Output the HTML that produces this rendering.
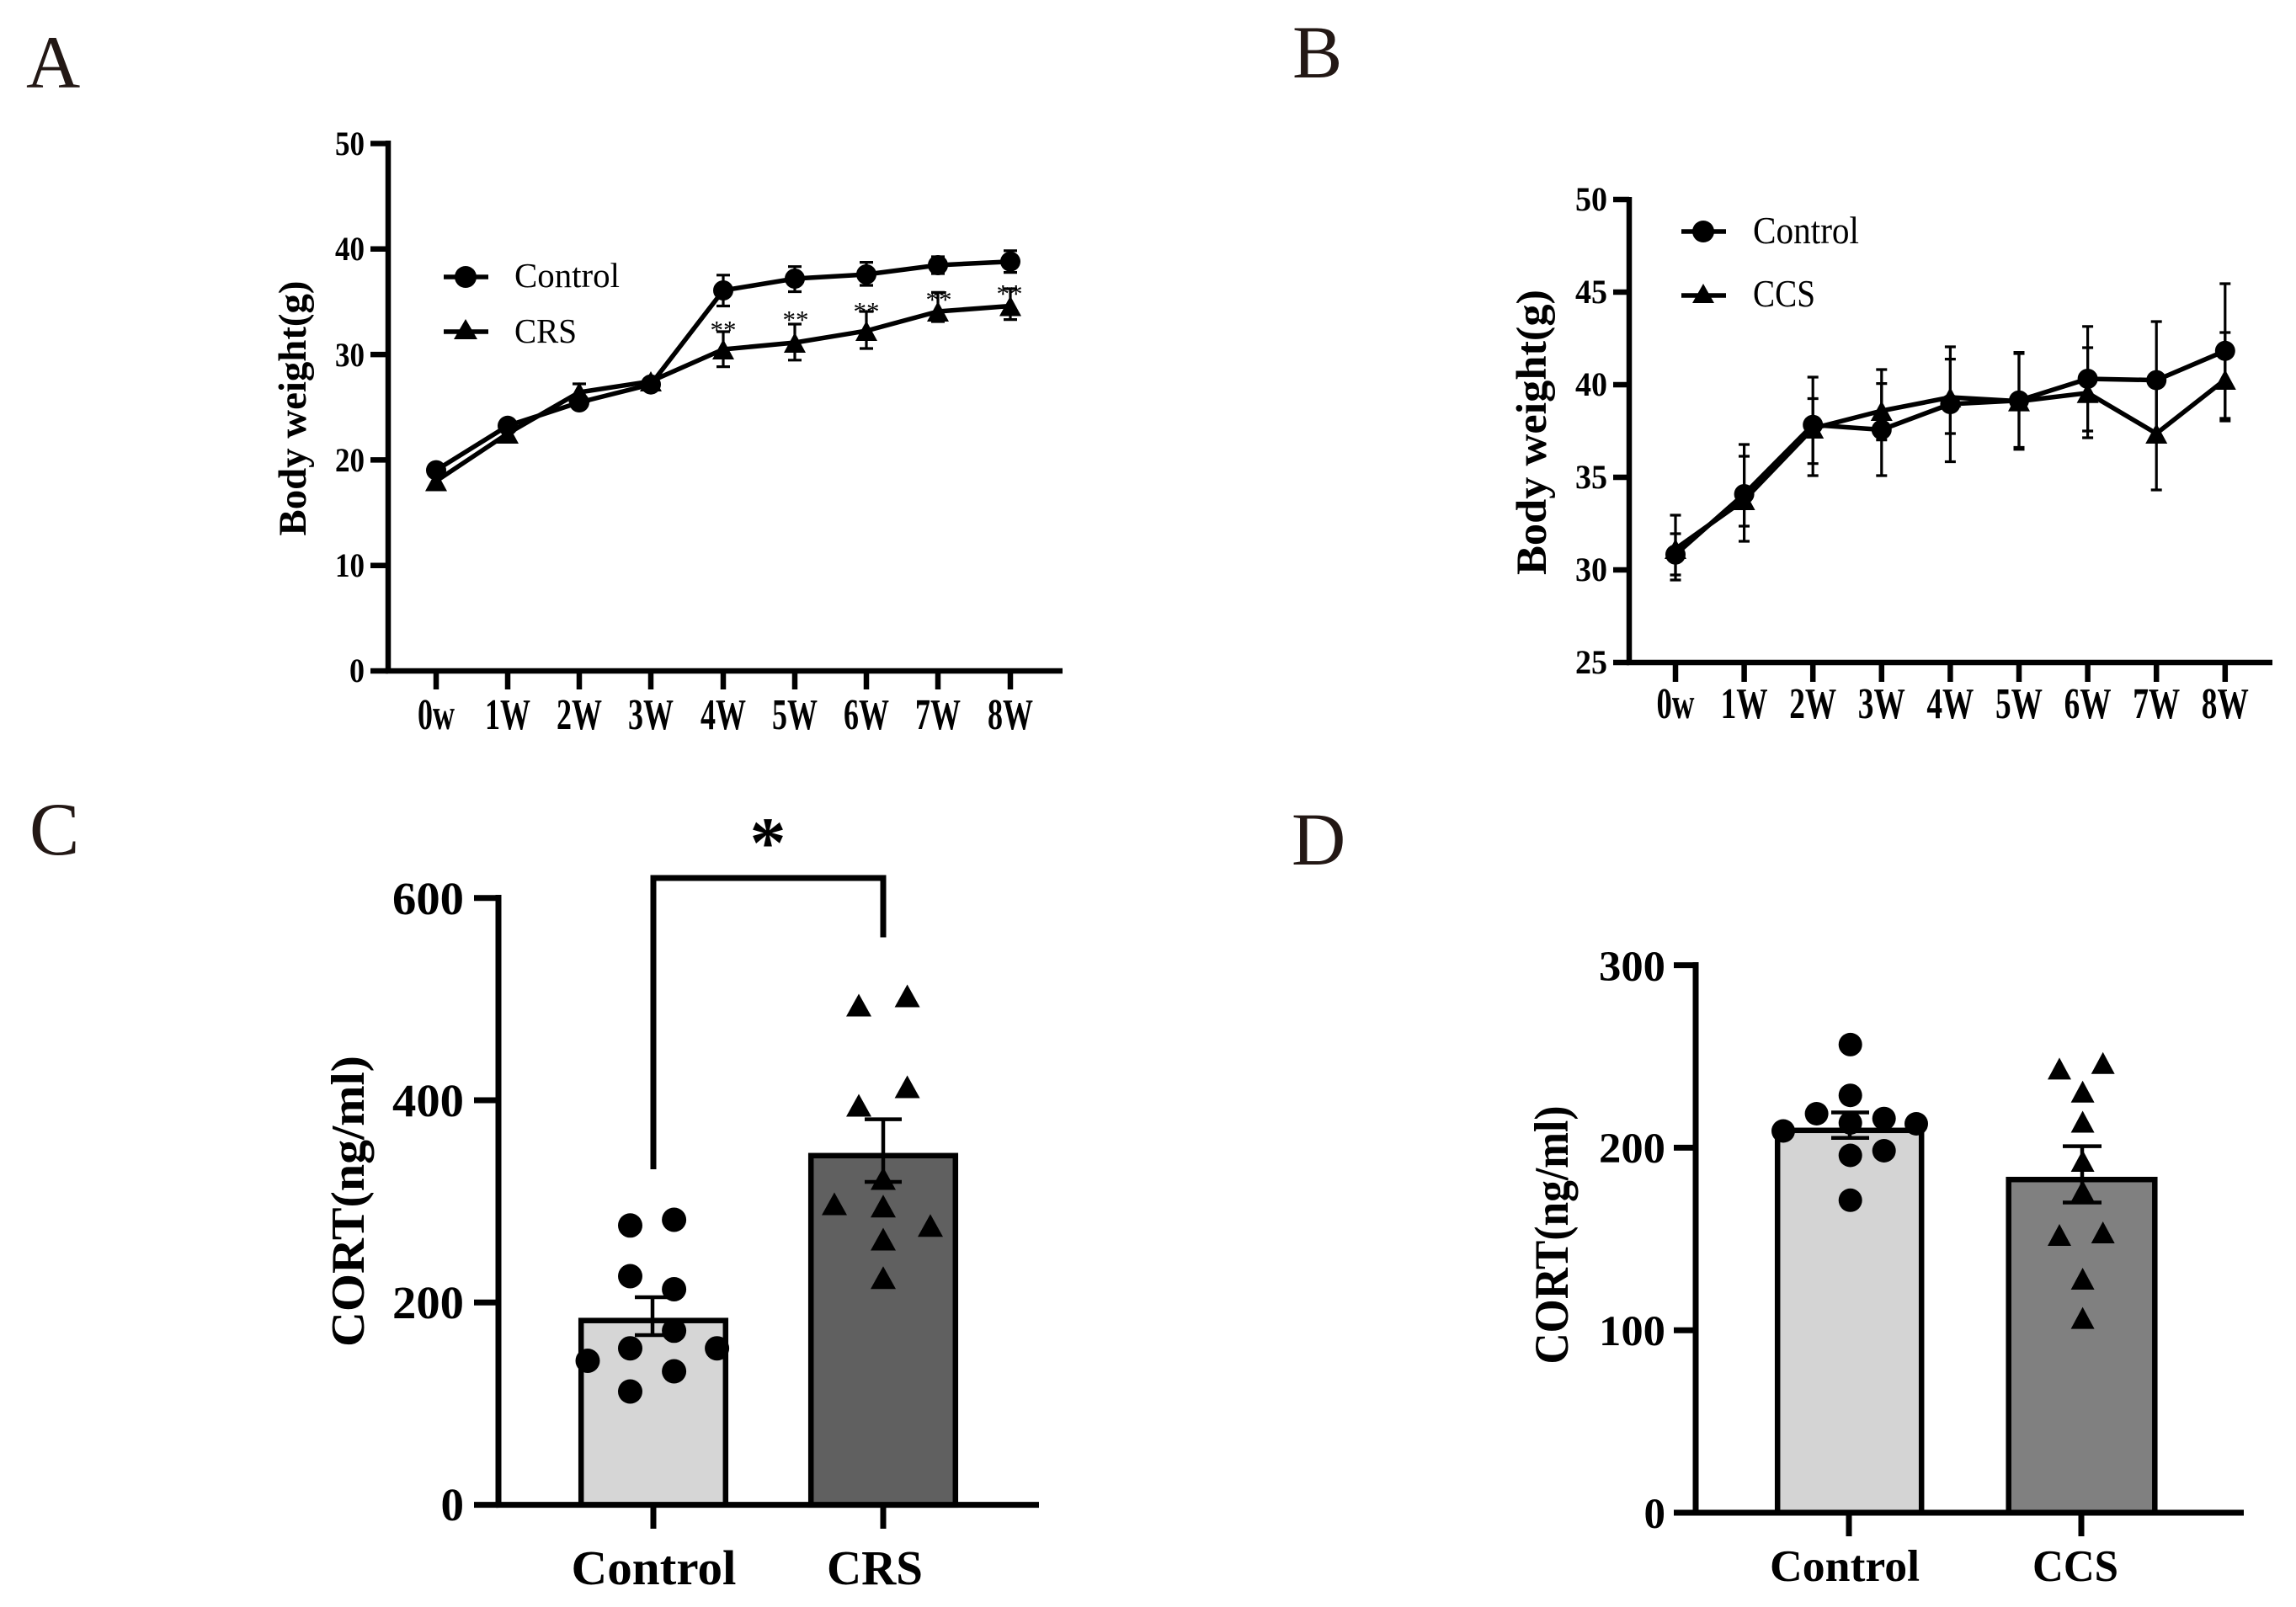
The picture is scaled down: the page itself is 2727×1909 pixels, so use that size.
<!DOCTYPE html>
<html>
<head>
<meta charset="utf-8">
<style>
  html,body{margin:0;padding:0;background:#fff;}
  svg{display:block;}
  text{font-family:"Liberation Serif","Times New Roman",serif;}
</style>
</head>
<body>
<svg width="2727" height="1909" viewBox="0 0 2727 1909" xmlns="http://www.w3.org/2000/svg">
<rect x="0" y="0" width="2727" height="1909" fill="#ffffff"/>

<!-- Panel letters -->
<g fill="#231815" font-size="89">
  <text x="31" y="104">A</text>
  <text x="1535" y="92">B</text>
  <text x="35" y="1015">C</text>
  <text x="1534" y="1027">D</text>
</g>

<!-- ================= PANEL A ================= -->
<g stroke="#000" fill="none" stroke-width="6.5">
  <path d="M461,167 V800"/>
  <path d="M458,797 H1262"/>
  <path d="M440,797 H461 M440,671.7 H461 M440,546.4 H461 M440,421.1 H461 M440,295.8 H461 M440,170.5 H461"/>
  <path d="M518,797 V819 M603,797 V819 M688,797 V819 M773,797 V819 M859,797 V819 M944,797 V819 M1029,797 V819 M1114,797 V819 M1200,797 V819"/>
</g>
<g font-size="40" font-weight="bold" text-anchor="end">
  <text x="433" y="810" textLength="18" lengthAdjust="spacingAndGlyphs">0</text>
  <text x="433" y="685" textLength="35" lengthAdjust="spacingAndGlyphs">10</text>
  <text x="433" y="560" textLength="35" lengthAdjust="spacingAndGlyphs">20</text>
  <text x="433" y="435" textLength="35" lengthAdjust="spacingAndGlyphs">30</text>
  <text x="433" y="309" textLength="35" lengthAdjust="spacingAndGlyphs">40</text>
  <text x="433" y="184" textLength="35" lengthAdjust="spacingAndGlyphs">50</text>
</g>
<g font-size="52" font-weight="bold" text-anchor="middle">
  <text x="518" y="866" textLength="44" lengthAdjust="spacingAndGlyphs">0w</text>
  <text x="603" y="866" textLength="54" lengthAdjust="spacingAndGlyphs">1W</text>
  <text x="688" y="866" textLength="54" lengthAdjust="spacingAndGlyphs">2W</text>
  <text x="773" y="866" textLength="54" lengthAdjust="spacingAndGlyphs">3W</text>
  <text x="859" y="866" textLength="54" lengthAdjust="spacingAndGlyphs">4W</text>
  <text x="944" y="866" textLength="54" lengthAdjust="spacingAndGlyphs">5W</text>
  <text x="1029" y="866" textLength="54" lengthAdjust="spacingAndGlyphs">6W</text>
  <text x="1114" y="866" textLength="54" lengthAdjust="spacingAndGlyphs">7W</text>
  <text x="1200" y="866" textLength="54" lengthAdjust="spacingAndGlyphs">8W</text>
</g>
<text transform="translate(363,485) rotate(-90)" text-anchor="middle" font-size="47" font-weight="bold" textLength="303" lengthAdjust="spacingAndGlyphs">Body weight(g)</text>

<!-- legend A -->
<g stroke="#000" stroke-width="5.5" fill="none">
  <path d="M527,329 H580 M527,394 H580"/>
</g>
<circle cx="553" cy="329" r="13" fill="#000"/>
<path d="M553,379 L539,403 L567,403 Z" fill="#000"/>
<text x="611" y="341" font-size="41" textLength="125" lengthAdjust="spacingAndGlyphs">Control</text>
<text x="611" y="407" font-size="41" textLength="74" lengthAdjust="spacingAndGlyphs">CRS</text>

<!-- data lines A -->
<g stroke="#000" stroke-width="5.5" fill="none" stroke-linejoin="round">
  <polyline points="518,558.6 603,505.8 688,478 773,456.7 859,345 944,331 1029,326 1114,315 1200,310.7"/>
  <polyline points="518,571.5 603,515 688,466 773,453 859,415 944,407 1029,393 1114,370 1200,363.5"/>
</g>
<g stroke="#000" stroke-width="3.2" fill="none">
  <path d="M859,326.8 V363.5 M851,326.8 H867 M851,363.5 H867"/>
  <path d="M944,316.7 V346.5 M936,316.7 H952 M936,346.5 H952"/>
  <path d="M1029,311.6 V339 M1021,311.6 H1037 M1021,339 H1037"/>
  <path d="M1114,305 V325 M1106,305 H1122 M1106,325 H1122"/>
  <path d="M1200,297.8 V323.6 M1192,297.8 H1208 M1192,323.6 H1208"/>
  <path d="M688,456 V476 M680,456 H696"/>
  <path d="M859,394 V435.6 M851,394 H867 M851,435.6 H867"/>
  <path d="M944,385 V427.8 M936,385 H952 M936,427.8 H952"/>
  <path d="M1029,370 V414 M1021,370 H1037 M1021,414 H1037"/>
  <path d="M1114,347.4 V382 M1106,347.4 H1122 M1106,382 H1122"/>
  <path d="M1200,343 V379.6 M1192,343 H1208 M1192,379.6 H1208"/>
</g>
<g fill="#000">
  <circle cx="518" cy="558.6" r="12"/>
  <circle cx="603" cy="505.8" r="12"/>
  <circle cx="688" cy="478" r="12"/>
  <circle cx="773" cy="456.7" r="12"/>
  <circle cx="859" cy="345" r="12"/>
  <circle cx="944" cy="331" r="12"/>
  <circle cx="1029" cy="326" r="12"/>
  <circle cx="1114" cy="315" r="12"/>
  <circle cx="1200" cy="310.7" r="12"/>
  <path d="M518,559.5 L505,583.5 L531,583.5 Z"/>
  <path d="M603,503 L590,527 L616,527 Z"/>
  <path d="M688,454 L675,478 L701,478 Z"/>
  <path d="M773,441 L760,465 L786,465 Z"/>
  <path d="M859,403 L846,427 L872,427 Z"/>
  <path d="M944,395 L931,419 L957,419 Z"/>
  <path d="M1029,381 L1016,405 L1042,405 Z"/>
  <path d="M1114,358 L1101,382 L1127,382 Z"/>
  <path d="M1200,351.5 L1187,375.5 L1213,375.5 Z"/>
</g>
<g font-size="31" text-anchor="middle">
  <text x="859" y="402">**</text>
  <text x="945" y="390">**</text>
  <text x="1029" y="380">**</text>
  <text x="1115" y="366">**</text>
  <text x="1199" y="359">**</text>
</g>

<!-- ================= PANEL B ================= -->
<g stroke="#000" fill="none" stroke-width="6.5">
  <path d="M1935,234 V790"/>
  <path d="M1932,787 H2699"/>
  <path d="M1916,787 H1935 M1916,677 H1935 M1916,567 H1935 M1916,457 H1935 M1916,347 H1935 M1916,237 H1935"/>
  <path d="M1990,787 V810 M2071.6,787 V810 M2153.2,787 V810 M2234.8,787 V810 M2316.4,787 V810 M2398,787 V810 M2479.6,787 V810 M2561.2,787 V810 M2642.8,787 V810"/>
</g>
<g font-size="40" font-weight="bold" text-anchor="end">
  <text x="1909" y="800" textLength="38" lengthAdjust="spacingAndGlyphs">25</text>
  <text x="1909" y="690" textLength="38" lengthAdjust="spacingAndGlyphs">30</text>
  <text x="1909" y="580" textLength="38" lengthAdjust="spacingAndGlyphs">35</text>
  <text x="1909" y="470" textLength="38" lengthAdjust="spacingAndGlyphs">40</text>
  <text x="1909" y="360" textLength="38" lengthAdjust="spacingAndGlyphs">45</text>
  <text x="1909" y="250" textLength="38" lengthAdjust="spacingAndGlyphs">50</text>
</g>
<g font-size="52" font-weight="bold" text-anchor="middle">
  <text x="1990" y="853" textLength="45" lengthAdjust="spacingAndGlyphs">0w</text>
  <text x="2071.6" y="853" textLength="56" lengthAdjust="spacingAndGlyphs">1W</text>
  <text x="2153.2" y="853" textLength="56" lengthAdjust="spacingAndGlyphs">2W</text>
  <text x="2234.8" y="853" textLength="56" lengthAdjust="spacingAndGlyphs">3W</text>
  <text x="2316.4" y="853" textLength="56" lengthAdjust="spacingAndGlyphs">4W</text>
  <text x="2398" y="853" textLength="56" lengthAdjust="spacingAndGlyphs">5W</text>
  <text x="2479.6" y="853" textLength="56" lengthAdjust="spacingAndGlyphs">6W</text>
  <text x="2561.2" y="853" textLength="56" lengthAdjust="spacingAndGlyphs">7W</text>
  <text x="2642.8" y="853" textLength="56" lengthAdjust="spacingAndGlyphs">8W</text>
</g>
<text transform="translate(1836,513.5) rotate(-90)" text-anchor="middle" font-size="51" font-weight="bold" textLength="339" lengthAdjust="spacingAndGlyphs">Body weight(g)</text>

<g stroke="#000" stroke-width="5.5" fill="none">
  <path d="M1997,275 H2050 M1997,351 H2050"/>
</g>
<circle cx="2023" cy="275" r="13" fill="#000"/>
<path d="M2023,337 L2010,360 L2036,360 Z" fill="#000"/>
<text x="2082" y="289" font-size="45" textLength="126" lengthAdjust="spacingAndGlyphs">Control</text>
<text x="2082" y="364" font-size="45" textLength="74" lengthAdjust="spacingAndGlyphs">CCS</text>

<g stroke="#000" stroke-width="5.5" fill="none" stroke-linejoin="round">
  <polyline points="1990,658.75 2071.6,587 2153.2,504.7 2234.8,510.5 2316.4,480 2398,475.7 2479.6,450 2561.2,451.6 2642.8,416.8"/>
  <polyline points="1990,652 2071.6,594 2153.2,509 2234.8,488 2316.4,472 2398,476.6 2479.6,466.8 2561.2,515 2642.8,451"/>
</g>
<g stroke="#000" stroke-width="3.2" fill="none">
  <path d="M1990,634 V683 M1983.5,634 H1996.5 M1983.5,683 H1996.5"/>
  <path d="M1990,612 V689 M1983.5,612 H1996.5 M1983.5,689 H1996.5"/>
  <path d="M2071.6,542 V625 M2065,542 H2078 M2065,625 H2078"/>
  <path d="M2071.6,528 V643 M2065,528 H2078 M2065,643 H2078"/>
  <path d="M2153.2,448 V565 M2146.7,448 H2159.7 M2146.7,565 H2159.7"/>
  <path d="M2153.2,473.5 V550.7 M2146.7,473.5 H2159.7 M2146.7,550.7 H2159.7"/>
  <path d="M2234.8,455.6 V565 M2228.3,455.6 H2241.3 M2228.3,565 H2241.3"/>
  <path d="M2234.8,439 V522.6 M2228.3,439 H2241.3 M2228.3,522.6 H2241.3"/>
  <path d="M2316.4,412 V548.5 M2309.9,412 H2322.9 M2309.9,548.5 H2322.9"/>
  <path d="M2316.4,426.6 V515 M2309.9,426.6 H2322.9 M2309.9,515 H2322.9"/>
  <path d="M2398,418.6 V531.5 M2391.5,418.6 H2404.5 M2391.5,531.5 H2404.5"/>
  <path d="M2398,420 V533.75 M2391.5,420 H2404.5 M2391.5,533.75 H2404.5"/>
  <path d="M2479.6,387.8 V512 M2473.1,387.8 H2486.1 M2473.1,512 H2486.1"/>
  <path d="M2479.6,413 V520 M2473.1,413 H2486.1 M2473.1,520 H2486.1"/>
  <path d="M2561.2,382 V521.6 M2554.7,382 H2567.7 M2554.7,521.6 H2567.7"/>
  <path d="M2561.2,448 V582 M2554.7,448 H2567.7 M2554.7,582 H2567.7"/>
  <path d="M2642.8,337 V497 M2636.3,337 H2649.3 M2636.3,497 H2649.3"/>
  <path d="M2642.8,395 V500 M2636.3,395 H2649.3 M2636.3,500 H2649.3"/>
</g>
<g fill="#000">
  <circle cx="1990" cy="658.75" r="12"/>
  <circle cx="2071.6" cy="587" r="12"/>
  <circle cx="2153.2" cy="504.7" r="12"/>
  <circle cx="2234.8" cy="510.5" r="12"/>
  <circle cx="2316.4" cy="480" r="12"/>
  <circle cx="2398" cy="475.7" r="12"/>
  <circle cx="2479.6" cy="450" r="12"/>
  <circle cx="2561.2" cy="451.6" r="12"/>
  <circle cx="2642.8" cy="416.8" r="12"/>
  <path d="M1990,640 L1977,664 L2003,664 Z"/>
  <path d="M2071.6,582 L2058.6,606 L2084.6,606 Z"/>
  <path d="M2153.2,497 L2140.2,521 L2166.2,521 Z"/>
  <path d="M2234.8,476 L2221.8,500 L2247.8,500 Z"/>
  <path d="M2316.4,460 L2303.4,484 L2329.4,484 Z"/>
  <path d="M2398,464.6 L2385,488.6 L2411,488.6 Z"/>
  <path d="M2479.6,454.8 L2466.6,478.8 L2492.6,478.8 Z"/>
  <path d="M2561.2,503 L2548.2,527 L2574.2,527 Z"/>
  <path d="M2642.8,439 L2629.8,463 L2655.8,463 Z"/>
</g>

<!-- ================= PANEL C ================= -->
<rect x="690.2" y="1568.7" width="171.6" height="219" fill="#d6d6d6" stroke="#000" stroke-width="6.5"/>
<rect x="963.2" y="1372.8" width="171.6" height="415" fill="#606060" stroke="#000" stroke-width="6.5"/>
<g stroke="#000" fill="none" stroke-width="7">
  <path d="M592,1063 V1791"/>
  <path d="M589,1787.6 H1234"/>
  <path d="M563,1787.6 H592 M563,1547.3 H592 M563,1307 H592 M563,1066.7 H592"/>
  <path d="M776,1787.6 V1816 M1049,1787.6 V1816"/>
  <path d="M776,1389 V1043 H1049 V1113.5"/>
</g>
<g font-size="55" font-weight="bold" text-anchor="end">
  <text x="551" y="1806">0</text>
  <text x="551" y="1566" textLength="85" lengthAdjust="spacingAndGlyphs">200</text>
  <text x="551" y="1326" textLength="85" lengthAdjust="spacingAndGlyphs">400</text>
  <text x="551" y="1086" textLength="85" lengthAdjust="spacingAndGlyphs">600</text>
</g>
<g font-size="58" font-weight="bold" text-anchor="middle">
  <text x="776.5" y="1882" textLength="196" lengthAdjust="spacingAndGlyphs">Control</text>
  <text x="1039" y="1882" textLength="114" lengthAdjust="spacingAndGlyphs">CRS</text>
</g>
<text x="912" y="1030" font-size="86" font-weight="bold" text-anchor="middle">*</text>
<text transform="translate(432,1427) rotate(-90)" text-anchor="middle" font-size="56" font-weight="bold" textLength="346" lengthAdjust="spacingAndGlyphs">CORT(ng/ml)</text>
<g stroke="#000" stroke-width="4.5" fill="none">
  <path d="M775,1541 V1586 M754,1541 H797 M754,1586 H797"/>
  <path d="M1049,1329.6 V1404 M1027,1329.6 H1071 M1027,1404 H1071"/>
</g>
<g fill="#000">
  <circle cx="748.5" cy="1455.8" r="14.5"/>
  <circle cx="800.6" cy="1449" r="14.5"/>
  <circle cx="748.5" cy="1516" r="14.5"/>
  <circle cx="800.6" cy="1531.5" r="14.5"/>
  <circle cx="800.6" cy="1580.8" r="14.5"/>
  <circle cx="748.5" cy="1601.7" r="14.5"/>
  <circle cx="698" cy="1616.5" r="14.5"/>
  <circle cx="851.6" cy="1601.7" r="14.5"/>
  <circle cx="800.6" cy="1629" r="14.5"/>
  <circle cx="748.5" cy="1653" r="14.5"/>
  <path d="M1020,1180.5 L1005,1207.5 L1035,1207.5 Z"/>
  <path d="M1077.6,1169.5 L1062.6,1196.5 L1092.6,1196.5 Z"/>
  <path d="M1077.6,1277.5 L1062.6,1304.5 L1092.6,1304.5 Z"/>
  <path d="M1020,1299.5 L1005,1326.5 L1035,1326.5 Z"/>
  <path d="M1049,1386.5 L1034,1413.5 L1064,1413.5 Z"/>
  <path d="M991,1416.5 L976,1443.5 L1006,1443.5 Z"/>
  <path d="M1049,1419.2 L1034,1446.2 L1064,1446.2 Z"/>
  <path d="M1105,1442.3 L1090,1469.3 L1120,1469.3 Z"/>
  <path d="M1049,1458.5 L1034,1485.5 L1064,1485.5 Z"/>
  <path d="M1049,1504.2 L1034,1531.2 L1064,1531.2 Z"/>
</g>

<!-- ================= PANEL D ================= -->
<rect x="2111.2" y="1342.8" width="171" height="454" fill="#d4d4d4" stroke="#000" stroke-width="6.5"/>
<rect x="2385.7" y="1401.2" width="173.6" height="396" fill="#808080" stroke="#000" stroke-width="6.5"/>
<g stroke="#000" fill="none" stroke-width="7">
  <path d="M2014,1143 V1800"/>
  <path d="M2011,1797 H2665"/>
  <path d="M1988,1797 H2014 M1988,1580.2 H2014 M1988,1363.4 H2014 M1988,1146.6 H2014"/>
  <path d="M2196,1797 V1825 M2472,1797 V1825"/>
</g>
<g font-size="51" font-weight="bold" text-anchor="end">
  <text x="1978" y="1815">0</text>
  <text x="1978" y="1598" textLength="79" lengthAdjust="spacingAndGlyphs">100</text>
  <text x="1978" y="1381" textLength="79" lengthAdjust="spacingAndGlyphs">200</text>
  <text x="1978" y="1165" textLength="79" lengthAdjust="spacingAndGlyphs">300</text>
</g>
<g font-size="53" font-weight="bold" text-anchor="middle">
  <text x="2191" y="1878" textLength="178" lengthAdjust="spacingAndGlyphs">Control</text>
  <text x="2465" y="1878" textLength="102" lengthAdjust="spacingAndGlyphs">CCS</text>
</g>
<text transform="translate(1862,1467) rotate(-90)" text-anchor="middle" font-size="57" font-weight="bold" textLength="307" lengthAdjust="spacingAndGlyphs">CORT(ng/ml)</text>
<g stroke="#000" stroke-width="4.5" fill="none">
  <path d="M2197,1321.5 V1351.7 M2175,1321.5 H2220 M2175,1351.7 H2220"/>
  <path d="M2473,1361.6 V1428.5 M2450,1361.6 H2496 M2450,1428.5 H2496"/>
</g>
<g fill="#000">
  <circle cx="2197.7" cy="1240.9" r="14"/>
  <circle cx="2197.7" cy="1301.2" r="14"/>
  <circle cx="2157.6" cy="1323" r="14"/>
  <circle cx="2237.7" cy="1328.7" r="14"/>
  <circle cx="2197.7" cy="1334" r="14"/>
  <circle cx="2118" cy="1343.5" r="14"/>
  <circle cx="2276" cy="1335" r="14"/>
  <circle cx="2197.7" cy="1372.5" r="14"/>
  <circle cx="2237.7" cy="1367" r="14"/>
  <circle cx="2197.7" cy="1425.8" r="14"/>
  <path d="M2446,1256.4 L2432,1282.4 L2460,1282.4 Z"/>
  <path d="M2497.7,1249.8 L2483.7,1275.8 L2511.7,1275.8 Z"/>
  <path d="M2473.6,1283.8 L2459.6,1309.8 L2487.6,1309.8 Z"/>
  <path d="M2473.6,1319.5 L2459.6,1345.5 L2487.6,1345.5 Z"/>
  <path d="M2473.6,1366 L2459.6,1392 L2487.6,1392 Z"/>
  <path d="M2473.6,1401.8 L2459.6,1427.8 L2487.6,1427.8 Z"/>
  <path d="M2446,1454 L2432,1480 L2460,1480 Z"/>
  <path d="M2497.7,1451 L2483.7,1477 L2511.7,1477 Z"/>
  <path d="M2473.6,1506 L2459.6,1532 L2487.6,1532 Z"/>
  <path d="M2473.6,1552.6 L2459.6,1578.6 L2487.6,1578.6 Z"/>
</g>
</svg>
</body>
</html>
